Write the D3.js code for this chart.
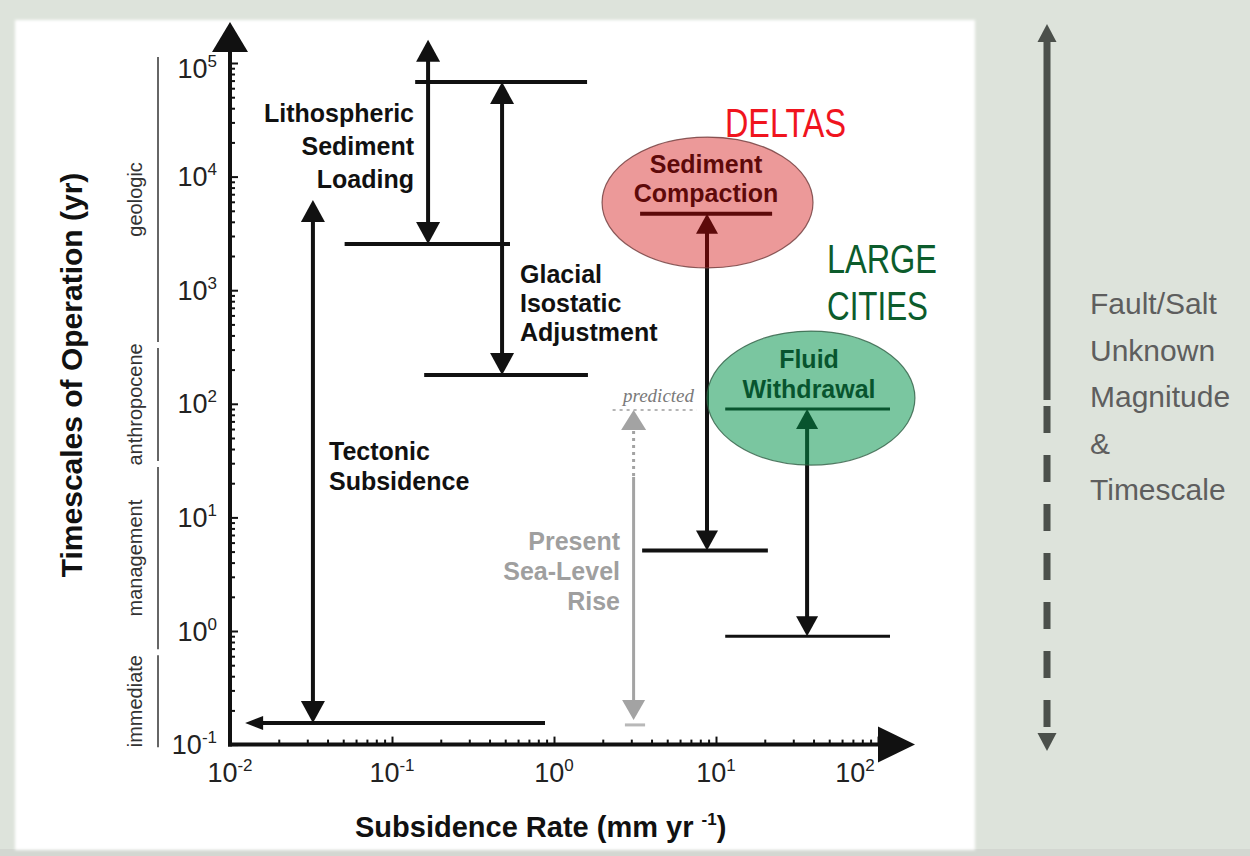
<!DOCTYPE html>
<html>
<head>
<meta charset="utf-8">
<title>Subsidence rate versus timescale of operation</title>
<script src="https://cdn.jsdelivr.net/npm/d3@7"></script>
<style>
  html, body { margin: 0; padding: 0; background: #dde3db; }
  svg { display: block; }
  text { font-family: "Liberation Sans", Arial, Helvetica, sans-serif; }
</style>
</head>
<body>
<svg id="chart" width="1250" height="856"></svg>
<script>
// ---- Axis ticks ----
const rateDecades = [0.01, 0.1, 1, 10, 100];              // subsidence rate, mm/yr
const rateExponents = ["-2", "-1", "0", "1", "2"];
const timeDecades = [0.1, 1, 10, 100, 1e3, 1e4, 1e5];     // timescale, yr
const timeExponents = ["-1", "0", "1", "2", "3", "4", "5"];

// ---- Subsidence processes: typical rate and span of timescales ----
const processNames = ["Lithospheric Sediment Loading", "Glacial Isostatic Adjustment",
                      "Tectonic Subsidence", "Sediment Compaction", "Fluid Withdrawal"];
const processRate    = [0.167, 0.478, 0.0325, 8.8, 36.5];
const processTimeMin = [2550, 179, 0.155, 5.1, 0.9];
const processTimeMax = [1.6e5, 6.8e4, 6220, 4700, 90];

// ---- Rate ranges bounding the processes ----
const boundTime    = [6.8e4, 2550, 179, 0.155, 4700, 5.1, 90, 0.9];
const boundRateMin = [0.139, 0.051, 0.158, 0.0124, 3.4, 3.5, 11.4, 11.4];
const boundRateMax = [1.6, 0.535, 1.62, 0.88, 22.2, 20.9, 118.6, 118.6];
const boundOpenLow = [false, false, false, true, false, false, false, false];

// ---- Present sea-level rise ----
const slrRate = 3.1;
const slrObserved  = [0.165, 22.7];   // yr
const slrPredicted = [22.7, 88];      // yr
const slrFloor = { time: 0.149, rateMin: 2.74, rateMax: 3.65 };
const predictedRate = [2.3, 7.6];
const predictedTime = 88;

// ---- Settings where the fast processes dominate ----
const settingNames   = ["DELTAS", "LARGE CITIES"];
const settingRateMin = [1.98, 8.8];
const settingRateMax = [39.7, 169];
const settingTimeMin = [1570, 28.9];
const settingTimeMax = [22300, 437];

// ---- Timescale bands ----
const bandNames = ["immediate", "management", "anthropocene", "geologic"];
const bandEdges = [0.095, 0.65, 29.5, 330, 1.13e5];

// ---- Right-hand note ----
const noteLines = ["Fault/Salt", "Unknown", "Magnitude", "&", "Timescale"];

const svg = d3.select("#chart");
const x = d3.scaleLog().domain([0.01, 100]).range([230, 878]);
const y = d3.scaleLog().domain([0.1, 1e5]).range([744.6, 63]);
const INK = "#111";

// Panel
const defs = svg.append("defs");
defs.append("filter").attr("id", "soft").attr("x", "-5%").attr("y", "-5%")
  .attr("width", "110%").attr("height", "110%")
  .append("feGaussianBlur").attr("stdDeviation", 1.5);
svg.append("rect").attr("x", 0).attr("y", 0).attr("width", 1250).attr("height", 856).attr("fill", "#dde3db");
svg.append("rect").attr("x", 0).attr("y", 849).attr("width", 1250).attr("height", 7).attr("fill", "#d3d7d1");
svg.append("rect").attr("x", 15).attr("y", 20).attr("width", 960).attr("height", 830)
  .attr("fill", "#ffffff").attr("filter", "url(#soft)");

// Arrowhead helper: tip at (cx, tipY), dir = 1 points up, -1 points down
function head(g, cx, tipY, dir, w, l, color) {
  g.append("path")
    .attr("d", `M${cx},${tipY} L${cx - w / 2},${tipY + dir * l} L${cx + w / 2},${tipY + dir * l} Z`)
    .attr("fill", color);
}

// ---- Timescale bands at the far left ----
const gBands = svg.append("g");
bandNames.forEach((name, i) => {
  const yLow = y(bandEdges[i]), yHigh = y(bandEdges[i + 1]);
  const y1 = yHigh + (i === bandNames.length - 1 ? 0 : 3);
  const y2 = yLow - (i === 0 ? 0 : 3);
  gBands.append("line").attr("x1", 158).attr("x2", 158).attr("y1", y1).attr("y2", y2)
    .attr("stroke", "#333").attr("stroke-width", 1.5);
  gBands.append("text")
    .attr("transform", `translate(142,${(y1 + y2) / 2}) rotate(-90)`)
    .attr("text-anchor", "middle").attr("font-size", 20).attr("fill", "#333")
    .text(name);
});

// ---- Axes ----
const gx = svg.append("g").attr("transform", `translate(0,${y(0.1)})`)
  .call(d3.axisBottom(x).tickValues(x.ticks()).tickSize(-5).tickFormat(""));
gx.select(".domain").remove();
gx.selectAll(".tick line").attr("stroke", INK).attr("stroke-width", 2)
  .attr("y2", d => rateDecades.includes(d) ? -8 : -5);

const gy = svg.append("g").attr("transform", `translate(${x(0.01)},0)`)
  .call(d3.axisLeft(y).tickValues(y.ticks()).tickSize(-5).tickFormat(""));
gy.select(".domain").remove();
gy.selectAll(".tick line").attr("stroke", INK).attr("stroke-width", 2)
  .attr("x2", d => timeDecades.includes(d) ? 8 : 5);

// Axis lines with arrows
svg.append("line").attr("x1", x(0.01)).attr("x2", x(0.01)).attr("y1", y(0.1) + 2).attr("y2", 52)
  .attr("stroke", INK).attr("stroke-width", 4);
head(svg, x(0.01), 22, 1, 36, 30, INK);
svg.append("line").attr("x1", x(0.01) - 2).attr("x2", 880).attr("y1", y(0.1)).attr("y2", y(0.1))
  .attr("stroke", INK).attr("stroke-width", 4);
svg.append("path").attr("d", `M915,${y(0.1)} L878,${y(0.1) - 18} L878,${y(0.1) + 18} Z`).attr("fill", INK);

// Tick labels (powers of ten)
function power(textSel, exp) {
  textSel.append("tspan").text("10");
  textSel.append("tspan").attr("font-size", 17).attr("dy", -11).text(exp);
}
timeDecades.forEach((v, i) => {
  const drop = i === timeDecades.length - 1 ? 5 : 0;
  const t = svg.append("text").attr("x", 217).attr("y", y(v) + 9.5 + drop)
    .attr("text-anchor", "end").attr("font-size", 27).attr("fill", "#222");
  power(t, timeExponents[i]);
});
rateDecades.forEach((v, i) => {
  const shift = i === rateDecades.length - 1 ? -23 : 0;
  const t = svg.append("text").attr("x", x(v) + shift).attr("y", 782)
    .attr("text-anchor", "middle").attr("font-size", 27).attr("fill", "#222");
  power(t, rateExponents[i]);
});

// Axis titles
svg.append("text").attr("transform", "translate(82,375) rotate(-90)")
  .attr("text-anchor", "middle").attr("font-size", 30).attr("font-weight", "bold").attr("fill", INK)
  .text("Timescales of Operation (yr)");
const xt = svg.append("text").attr("x", 355).attr("y", 837)
  .attr("font-size", 29).attr("font-weight", "bold").attr("fill", INK);
xt.append("tspan").text("Subsidence Rate (mm yr ");
xt.append("tspan").attr("font-size", 17).attr("dy", -12).text("-1");
xt.append("tspan").attr("dy", 12).text(")");

// ---- Bounding rate ranges ----
const gMarks = svg.append("g");
boundTime.forEach((t, i) => {
  const yy = y(t);
  const xa = x(boundRateMin[i]), xb = x(boundRateMax[i]);
  const sw = i >= 6 ? 3 : 4;
  if (boundOpenLow[i]) {
    gMarks.append("line").attr("x1", xa + 16).attr("x2", xb).attr("y1", yy).attr("y2", yy)
      .attr("stroke", INK).attr("stroke-width", sw);
    gMarks.append("path").attr("d", `M${xa},${yy} L${xa + 18},${yy - 7} L${xa + 18},${yy + 7} Z`).attr("fill", INK);
  } else {
    gMarks.append("line").attr("x1", xa).attr("x2", xb).attr("y1", yy).attr("y2", yy)
      .attr("stroke", INK).attr("stroke-width", sw);
  }
});

// ---- Process double arrows ----
processRate.forEach((r, i) => {
  const cx = x(r), yTop = y(processTimeMax[i]), yBot = y(processTimeMin[i]);
  const w = i < 3 ? 24 : 22, l = i < 3 ? 22 : 20;
  gMarks.append("line").attr("x1", cx).attr("x2", cx).attr("y1", yTop + l - 1).attr("y2", yBot - l + 1)
    .attr("stroke", INK).attr("stroke-width", 4);
  head(gMarks, cx, yTop, 1, w, l, INK);
  head(gMarks, cx, yBot, -1, w, l, INK);
});

// ---- Process labels ----
function label(lines, xPos, baselines, anchor, color) {
  const g = svg.append("g");
  lines.forEach((s, i) => {
    g.append("text").attr("x", xPos).attr("y", baselines[i]).attr("text-anchor", anchor)
      .attr("font-size", 25).attr("font-weight", "bold").attr("fill", color).text(s);
  });
}
label(["Lithospheric", "Sediment", "Loading"], 414, [122, 155, 188], "end", INK);
label(["Glacial", "Isostatic", "Adjustment"], 520, [283, 312, 341], "start", INK);
label(["Tectonic", "Subsidence"], 329, [460, 490], "start", INK);
label(["Sediment", "Compaction"], 706, [173, 202], "middle", INK);
label(["Fluid", "Withdrawal"], 809, [368, 398], "middle", INK);

// ---- Present sea-level rise ----
const GREY = "#a3a3a3";
const sx = x(slrRate);
svg.append("line").attr("x1", sx).attr("x2", sx).attr("y1", y(slrObserved[1])).attr("y2", y(slrObserved[0]) - 19)
  .attr("stroke", GREY).attr("stroke-width", 3);
svg.append("line").attr("x1", sx).attr("x2", sx).attr("y1", y(slrPredicted[1]) + 21).attr("y2", y(slrPredicted[0]))
  .attr("stroke", GREY).attr("stroke-width", 3).attr("stroke-dasharray", "3,4");
head(svg, sx, y(slrPredicted[1]), 1, 25, 20, GREY);
head(svg, sx, y(slrObserved[0]), -1, 23, 20, GREY);
svg.append("line").attr("x1", x(slrFloor.rateMin)).attr("x2", x(slrFloor.rateMax))
  .attr("y1", y(slrFloor.time)).attr("y2", y(slrFloor.time))
  .attr("stroke", "#b8b8b8").attr("stroke-width", 3);
svg.append("line").attr("x1", x(predictedRate[0])).attr("x2", x(predictedRate[1]))
  .attr("y1", y(predictedTime)).attr("y2", y(predictedTime))
  .attr("stroke", "#b5b5b5").attr("stroke-width", 2).attr("stroke-dasharray", "3,4");
svg.append("text").attr("x", 623).attr("y", 402)
  .style("font-family", "'Liberation Serif', 'Times New Roman', serif")
  .attr("font-style", "italic").attr("font-size", 19).attr("fill", "#7a7a7a").text("predicted");
label(["Present", "Sea-Level", "Rise"], 620, [550, 580, 610], "end", "#9f9f9f");

// ---- Setting ellipses (translucent, over the marks) ----
const settingFill = ["rgb(207,0,0)", "rgb(0,145,72)"];
const settingOpacity = [0.4, 0.52];
const settingEdge = ["#6e3a3a", "#2f5c43"];
settingNames.forEach((n, i) => {
  const x0 = x(settingRateMin[i]), x1 = x(settingRateMax[i]);
  const y0 = y(settingTimeMax[i]), y1 = y(settingTimeMin[i]);
  const e = { cx: (x0 + x1) / 2, cy: (y0 + y1) / 2, rx: (x1 - x0) / 2, ry: (y1 - y0) / 2 };
  svg.append("ellipse").attr("cx", e.cx).attr("cy", e.cy).attr("rx", e.rx).attr("ry", e.ry)
    .attr("fill", settingFill[i]).attr("fill-opacity", settingOpacity[i]);
  svg.append("ellipse").attr("cx", e.cx).attr("cy", e.cy).attr("rx", e.rx).attr("ry", e.ry)
    .attr("fill", "none").attr("stroke", settingEdge[i]).attr("stroke-width", 1.2).attr("stroke-opacity", 0.8);
});

// Setting titles (condensed)
svg.append("text").attr("x", 725).attr("y", 137).attr("font-size", 40).attr("fill", "#f0141e")
  .attr("textLength", 121).attr("lengthAdjust", "spacingAndGlyphs").text(settingNames[0]);
const cityWords = settingNames[1].split(" ");
svg.append("text").attr("x", 827).attr("y", 273).attr("font-size", 40).attr("fill", "#0c5c2c")
  .attr("textLength", 110).attr("lengthAdjust", "spacingAndGlyphs").text(cityWords[0]);
svg.append("text").attr("x", 827).attr("y", 320).attr("font-size", 40).attr("fill", "#0c5c2c")
  .attr("textLength", 101).attr("lengthAdjust", "spacingAndGlyphs").text(cityWords[1]);

// ---- Right-hand panel: fault / salt movement ----
const NOTE = "#4b504b";
const ax = 1047;
svg.append("line").attr("x1", ax).attr("x2", ax).attr("y1", 40).attr("y2", 400)
  .attr("stroke", NOTE).attr("stroke-width", 7);
svg.append("line").attr("x1", ax).attr("x2", ax).attr("y1", 406).attr("y2", 733)
  .attr("stroke", NOTE).attr("stroke-width", 7).attr("stroke-dasharray", "27,22");
head(svg, ax, 24, 1, 19, 18, NOTE);
head(svg, ax, 751, -1, 19, 18, NOTE);
noteLines.forEach((s, i) => {
  svg.append("text").attr("x", 1090).attr("y", 314 + i * 46.5)
    .attr("font-size", 30).attr("fill", "#5e5e5e").text(s);
});
</script>
</body>
</html>
